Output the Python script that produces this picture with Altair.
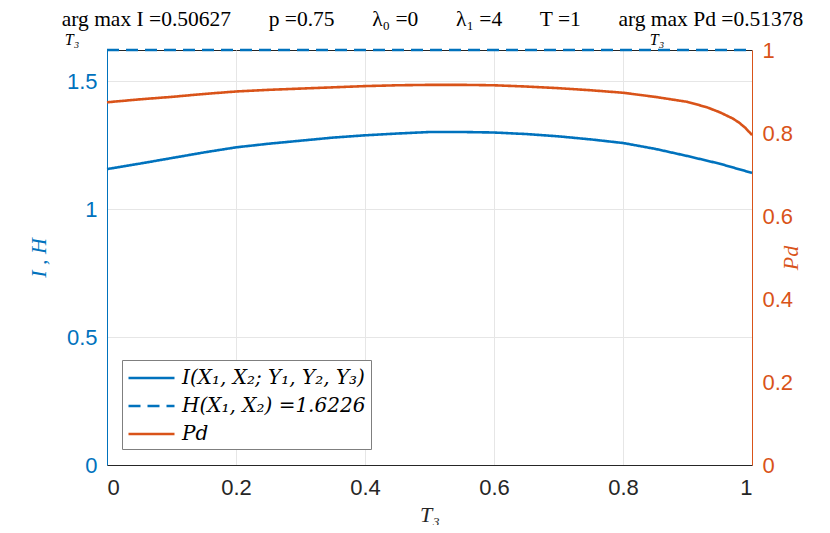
import altair as alt
import pandas as pd

BLUE = "#0072BD"
ORANGE = "#D95319"
DARK = "#262626"

t_i = [0.0, 0.05, 0.1, 0.15, 0.2, 0.25, 0.3, 0.35, 0.4, 0.45, 0.5,
       0.55, 0.6, 0.65, 0.7, 0.75, 0.8, 0.85, 0.9, 0.95, 1.0]
i_vals = [1.157, 1.178, 1.200, 1.222, 1.242, 1.256, 1.268, 1.280, 1.289, 1.296, 1.302,
          1.302, 1.300, 1.294, 1.285, 1.273, 1.259, 1.236, 1.208, 1.178, 1.142]

t_p = [0.0, 0.05, 0.1, 0.15, 0.2, 0.25, 0.3, 0.35, 0.4, 0.45, 0.5, 0.55, 0.6,
       0.65, 0.7, 0.75, 0.8, 0.85, 0.9, 0.93, 0.95, 0.97, 0.98, 0.99, 1.0]
pd_vals = [0.874, 0.881, 0.887, 0.894, 0.900, 0.904, 0.907, 0.910, 0.913, 0.915, 0.916,
           0.916, 0.915, 0.912, 0.908, 0.903, 0.897, 0.887, 0.875, 0.862, 0.850, 0.835,
           0.825, 0.812, 0.795]

H_val = 1.6226
t_h = [0.0, 1.0]

series_names = ["I(X₁, X₂; Y₁, Y₂, Y₃)", "H(X₁, X₂) =1.6226", "Pd"]

df_left = pd.concat([
    pd.DataFrame({"t": t_i, "v": i_vals, "s": series_names[0]}),
    pd.DataFrame({"t": t_h, "v": [H_val, H_val], "s": series_names[1]}),
])
df_right = pd.DataFrame({"t": t_p, "v": pd_vals, "s": series_names[2]})

GAP = "\u2003\u2002\u2005"
title_text = GAP.join(["arg max I =0.50627", "p =0.75", "λ₀ =0", "λ₁ =4", "T =1",
                       "arg max Pd =0.51378"])
sub_df = pd.DataFrame({"txt": ["T₃"]})

color = alt.Color("s:N", scale=alt.Scale(domain=series_names, range=[BLUE, BLUE, ORANGE]),
                  legend=alt.Legend(title=None))
dash = alt.StrokeDash("s:N", scale=alt.Scale(domain=series_names, range=[[1, 0], [12, 7], [1, 0]]),
                      legend=alt.Legend(title=None))

x_enc = alt.X("t:Q", scale=alt.Scale(domain=[0, 1], nice=False),
              axis=alt.Axis(values=[0, 0.2, 0.4, 0.6, 0.8, 1], format="~g", title="T₃",
                            grid=True, gridColor="#E6E6E6", ticks=False, labelPadding=12,
                            labelColor=DARK, domainColor=DARK, titleColor=DARK,
                            labelFont="Liberation Sans", labelFontSize=22,
                            titleFont="Liberation Serif", titleFontStyle="italic",
                            titleFontSize=22, titleFontWeight="normal", titlePadding=6))

left = alt.Chart(df_left).mark_line(strokeWidth=2.6, clip=False).encode(
    x=x_enc,
    y=alt.Y("v:Q", scale=alt.Scale(domain=[0, H_val], nice=False, zero=True),
            axis=alt.Axis(orient="left", values=[0, 0.5, 1, 1.5], format="~g", title="I , H",
                          grid=True, gridColor="#E6E6E6", ticks=False, labelPadding=10,
                          labelColor=BLUE, domainColor=BLUE, titleColor=BLUE,
                          labelFont="Liberation Sans", labelFontSize=22,
                          titleFont="Liberation Serif", titleFontStyle="italic",
                          titleFontSize=22, titleFontWeight="normal", titlePadding=16)),
    color=color,
    strokeDash=dash,
)

right = alt.Chart(df_right).mark_line(strokeWidth=2.6, clip=False).encode(
    x=alt.X("t:Q", scale=alt.Scale(domain=[0, 1], nice=False)),
    y=alt.Y("v:Q", scale=alt.Scale(domain=[0, 1], nice=False),
            axis=alt.Axis(orient="right", values=[0, 0.2, 0.4, 0.6, 0.8, 1], format="~g",
                          title="Pd", titleAngle=270, grid=False, ticks=False, labelPadding=10,
                          labelColor=ORANGE, domainColor=ORANGE, titleColor=ORANGE,
                          labelFont="Liberation Sans", labelFontSize=22,
                          titleFont="Liberation Serif", titleFontStyle="italic",
                          titleFontSize=22, titleFontWeight="normal", titlePadding=10)),
    color=color,
    strokeDash=dash,
)

sub1 = alt.Chart(sub_df).mark_text(font="Liberation Serif", fontStyle="italic", fontSize=16,
                                   color="black").encode(
    x=alt.value(-35), y=alt.value(-10), text="txt:N")
sub2 = alt.Chart(sub_df).mark_text(font="Liberation Serif", fontStyle="italic", fontSize=16,
                                   color="black").encode(
    x=alt.value(550), y=alt.value(-10), text="txt:N")

chart = alt.layer(left, right, sub1, sub2).resolve_scale(y="independent").properties(
    width=645, height=415,
    title=alt.Title(title_text, font="Liberation Serif", fontSize=21.5, fontWeight="normal",
                    color="black", anchor="middle", offset=2, dx=3),
    autosize=alt.AutoSizeParams(type="none"),
    padding={"left": 99, "top": 42, "right": 70, "bottom": 60},
).configure_view(
    stroke=DARK, strokeWidth=1
).configure_legend(
    orient="none", legendX=15, legendY=310, strokeColor="#7F7F7F", fillColor="white",
    padding=5, symbolType="M-1,0H3", symbolStrokeWidth=2.6, symbolSize=529,
    labelFont="DejaVu Serif", labelFontSize=20, labelFontStyle="italic",
    labelColor="black", labelOffset=29, rowPadding=5, cornerRadius=0, labelLimit=400
)

chart.save("out.html", embed_options={"renderer": "svg", "actions": False})
